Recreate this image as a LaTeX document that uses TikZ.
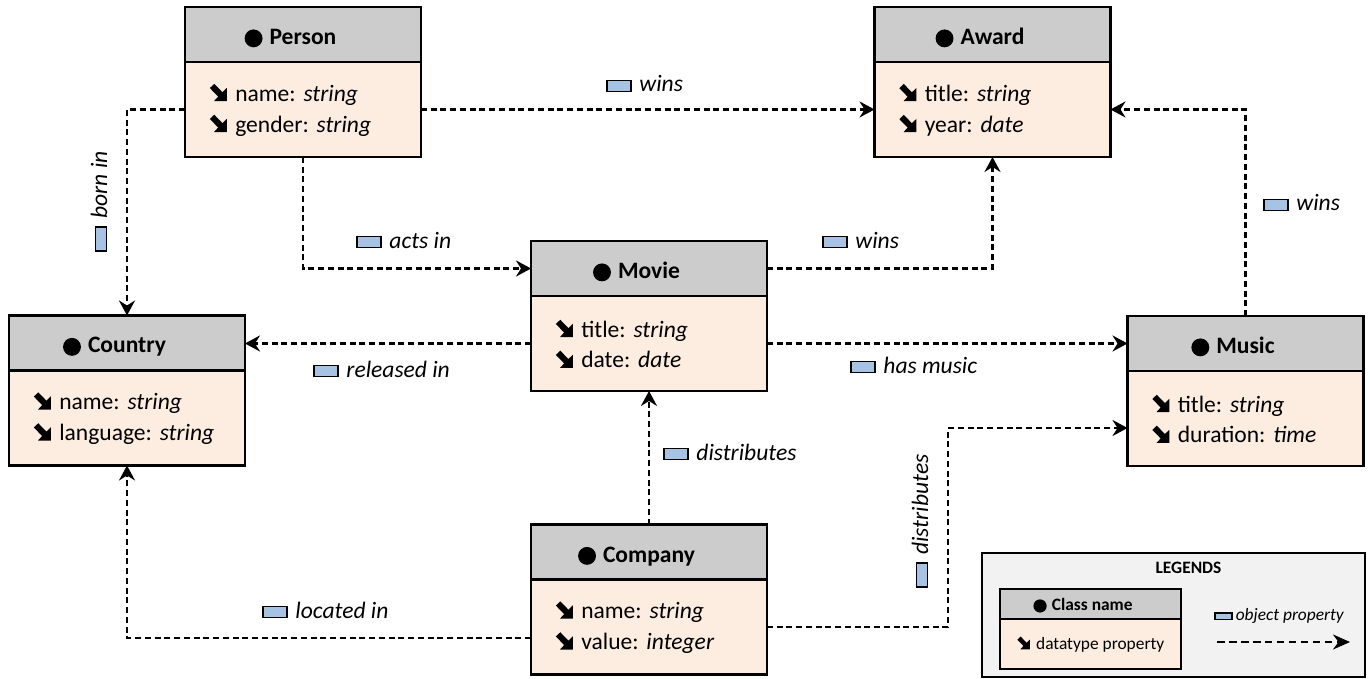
\documentclass[tikz,border=0pt]{standalone}
\usepackage{fontspec}
\setmainfont{Carlito}
\usetikzlibrary{arrows.meta}
\definecolor{hdrgray}{HTML}{CCCCCC}
\definecolor{bodypeach}{HTML}{FDEDE1}
\definecolor{lblblue}{HTML}{A7C3E3}
\definecolor{legbg}{HTML}{F2F2F2}
\frenchspacing

\newcommand\clsdot{\tikz[baseline=0pt]\fill[black] (0.38em,0.26em) circle (0.38em);\hspace{0.3em}}
\newcommand\dta{\tikz[baseline=0pt,x=0.68em,y=0.7em]{\fill[black] (1,0) -- (1,0.8) -- (0.68,0.5) -- (0.68,0.32) -- (0.5,0.32) -- (0.2,0) -- cycle; \draw[black,solid,line width=0.26em] (0.08,0.92) -- (0.8,0.2);}\hspace{0.36em}}
\newcommand\lrect{\tikz[baseline=0pt]\draw[black,solid,line width=0.9pt,fill=lblblue] (0,0.01cm) rectangle (0.48cm,0.23cm);\hspace{0.15cm}}
\newcommand\lrectsmall{\tikz[baseline=0pt]\draw[black,solid,line width=0.8pt,fill=lblblue] (0,0.01cm) rectangle (0.34cm,0.14cm);\hspace{0.06cm}}
\newcommand\hdrtext[3]{\raisebox{-#3}[0pt][0pt]{\clsdot #1\hspace{#2}}}

\begin{document}
\begin{tikzpicture}[x=0.02cm,y=-0.02cm,
  hdr/.style={draw=black, line width=1.2pt, fill=hdrgray, minimum width=4.72cm, minimum height=1.1cm, inner sep=0pt, outer sep=0pt, font=\fontsize{13.4}{16}\selectfont\bfseries},
  body/.style={draw=black, line width=1.2pt, fill=bodypeach, minimum width=4.72cm, minimum height=1.9cm, text width=3.76cm, inner xsep=0.48cm, inner ysep=0pt, outer sep=0pt, align=left, anchor=north, font=\fontsize{13.4}{17.6}\selectfont},
  conn/.style={line width=1.35pt, dash pattern=on 0.12cm off 0.075cm, -{Stealth[length=0.3cm,width=0.32cm,inset=0.1cm]}},
  lbl/.style={inner sep=0pt, anchor=base west, font=\fontsize{13.4}{16}\selectfont\itshape},
  leghdr/.style={draw=black, line width=1.2pt, fill=hdrgray, minimum width=3.62cm, minimum height=0.6cm, inner sep=0pt, outer sep=0pt, font=\fontsize{9.9}{12}\selectfont\bfseries},
  legbody/.style={draw=black, line width=1.2pt, fill=bodypeach, minimum width=3.62cm, minimum height=1.0cm, inner sep=0pt, outer sep=0pt, anchor=north, font=\fontsize{9.9}{12}\selectfont},
  legconn/.style={line width=1.35pt, dash pattern=on 0.15cm off 0.09cm, -{Stealth[length=0.34cm,width=0.3cm,inset=0.11cm]}}
]
\useasboundingbox (0,0) rectangle (1370,679);

% classes
\node[hdr] (personH) at (303,34.5) {\hdrtext{Person}{0.5cm}{0.2cm}};
\node[body] (personB) at (personH.south) {\dta name: \textit{string}\\\dta gender: \textit{string}};

\node[hdr] (awardH) at (992.5,34.5) {\hdrtext{Award}{0.5cm}{0.2cm}};
\node[body] (awardB) at (awardH.south) {\dta title: \textit{string}\\\dta year: \textit{date}};

\node[hdr] (movieH) at (649,268.5) {\hdrtext{Movie}{0.5cm}{0.2cm}};
\node[body] (movieB) at (movieH.south) {\dta title: \textit{string}\\\dta date: \textit{date}};

\node[hdr] (countryH) at (127,343) {\hdrtext{Country}{0.5cm}{0.2cm}};
\node[body] (countryB) at (countryH.south) {\dta name: \textit{string}\\\dta language: \textit{string}};

\node[hdr] (musicH) at (1245.5,343.5) {\hdrtext{Music}{0.5cm}{0.2cm}};
\node[body] (musicB) at (musicH.south) {\dta title: \textit{string}\\\dta duration: \textit{time}};

\node[hdr] (companyH) at (649,552) {\hdrtext{Company}{0.5cm}{0.2cm}};
\node[body] (companyB) at (companyH.south) {\dta name: \textit{string}\\\dta value: \textit{integer}};

% connectors
\draw[conn] (personB.west) -| (countryH.north);
\draw[conn] (personB.east) -- (awardB.west);
\draw[conn] (personB.south) |- (movieH.west);
\draw[conn] (movieH.east) -| (awardB.south);
\draw[conn] (movieB.west) -- (movieB.west -| countryH.east);
\draw[conn] (movieB.east) -- (movieB.east -| musicH.west);
\draw[conn] (musicH.north) |- (awardB.east);
\draw[conn] (companyH.north) -- (movieB.south);
\coordinate (dbend) at (948,428);
\draw[conn] (companyB.east) -| (dbend) -- (dbend -| musicB.west);
\coordinate (lbend) at (127,638);
\draw[conn] (companyB.west |- lbend) -- (lbend) -- (countryB.south);

% labels
\node[lbl] (l1) at (606,92) {\lrect wins};
\node[lbl] (l2) at (356,248) {\lrect acts in};
\node[lbl] (l3) at (822,248) {\lrect wins};
\node[lbl] (l4) at (313,377) {\lrect released in};
\node[lbl] (l5) at (850,373) {\lrect has music};
\node[lbl] (l6) at (1263,211) {\lrect wins};
\node[lbl] (l7) at (663,460) {\lrect distributes};
\node[lbl] (l8) at (262,618) {\lrect located in};
\node[lbl, rotate=90] (l9) at (107,252) {\lrect born in};
\node[lbl, rotate=90] (l10) at (928,588) {\lrect distributes};

% legend
\node[draw=black, line width=0.9pt, fill=legbg, minimum width=7.66cm, minimum height=2.48cm, inner sep=0pt] (legend) at (1173.5,615) {};
\node[font=\fontsize{9.9}{12}\selectfont\bfseries, inner sep=0pt] (legtitle) at (1188.5,568) {LEGENDS};
\node[leghdr] (legH) at (1090.5,604) {\hdrtext{Class name}{0.3cm}{0.13cm}};
\node[legbody] (legB) at (legH.south) {\dta datatype property};
\node[lbl, font=\fontsize{9.9}{12}\selectfont\itshape] (legop) at (1214,620) {\lrectsmall object property};
\coordinate (la) at (1217,642);
\coordinate (lb) at (1350,642);
\draw[legconn] (la) -- (lb);
\end{tikzpicture}
\end{document}
